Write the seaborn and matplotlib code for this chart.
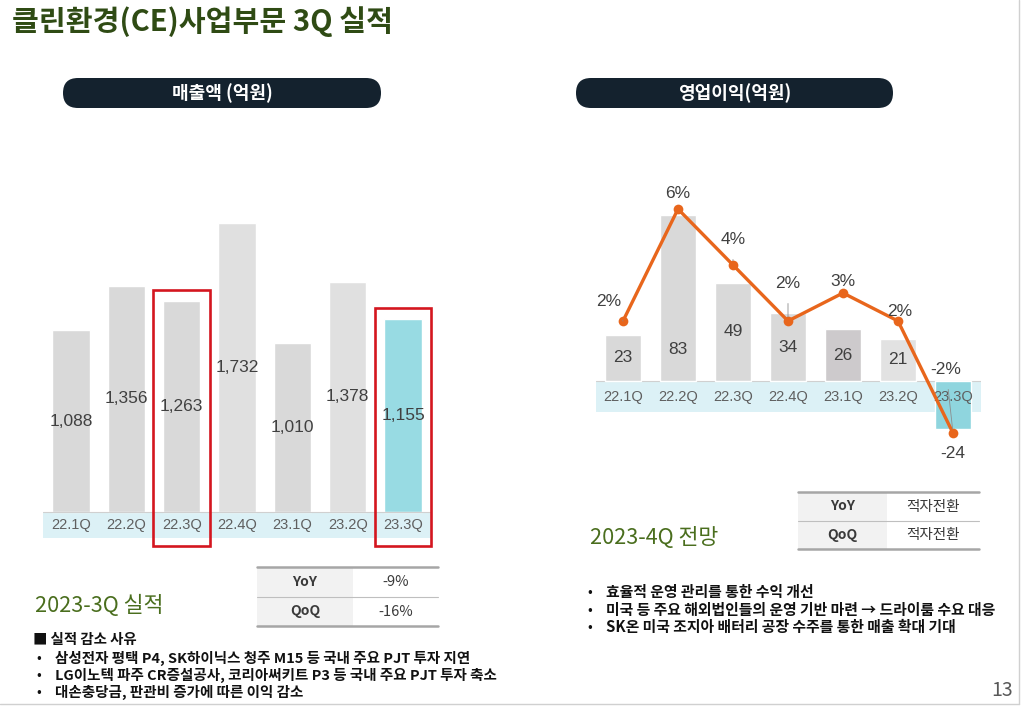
import matplotlib
matplotlib.use("Agg")
import matplotlib.pyplot as plt
import seaborn as sns
import pandas as pd
from matplotlib.patches import FancyBboxPatch, Rectangle

sns.set_theme(style="white")
plt.rcParams['font.family'] = ['Noto Sans CJK KR', 'DejaVu Sans']

# ---------------- data ----------------
quarters = ["22.1Q", "22.2Q", "22.3Q", "22.4Q", "23.1Q", "23.2Q", "23.3Q"]
sales = [1088, 1356, 1263, 1732, 1010, 1378, 1155]
op_profit = [23, 83, 49, 34, 26, 21, -24]
op_margin = [2, 6, 4, 2, 3, 2, -2]
highlight = ["22.3Q", "23.3Q"]

title = "클린환경(CE)사업부문 3Q 실적"
left_header = "매출액 (억원)"
right_header = "영업이익(억원)"
left_table = [("YoY", "-9%"), ("QoQ", "-16%")]
right_table = [("YoY", "적자전환"), ("QoQ", "적자전환")]
left_sub = "2023-3Q 실적"
right_sub = "2023-4Q 전망"
left_reason_head = "■ 실적 감소 사유"
left_bullets = [
    "삼성전자 평택 P4, SK하이닉스 청주 M15 등 국내 주요 PJT 투자 지연",
    "LG이노텍 파주 CR증설공사, 코리아써키트 P3 등 국내 주요 PJT 투자 축소",
    "대손충당금, 판관비 증가에 따른 이익 감소",
]
right_bullets = [
    "효율적 운영 관리를 통한 수익 개선",
    "미국 등 주요 해외법인들의 운영 기반 마련 → 드라이룸 수요 대응",
    "SK온 미국 조지아 배터리 공장 수주를 통한 매출 확대 기대",
]
page_no = "13"

# ---------------- styles ----------------
W, H = 1024, 707
NUM_FONT = ['Liberation Sans', 'DejaVu Sans']
KR = ['Noto Sans CJK KR', 'DejaVu Sans']
GRAY = "#d9d9d9"
CYAN = "#98dbe3"
BAND = "#dcf1f6"
NAVY = "#14222e"
ORANGE = "#e8661c"
RED = "#d4161f"
TXT = "#404040"
TICK = "#5f5f5f"

fig = plt.figure(figsize=(W / 100, H / 100), dpi=100)
fig.patch.set_facecolor("white")

# page overlay axes in pixel coordinates
page = fig.add_axes([0, 0, 1, 1], zorder=0)
page.set_xlim(0, W)
page.set_ylim(H, 0)
page.axis("off")

def fig_rect(x0, y0, x1, y1):
    return [x0 / W, 1 - y1 / H, (x1 - x0) / W, (y1 - y0) / H]

# ---------------- left chart ----------------
axL = fig.add_axes(fig_rect(43.3, 200, 430.7, 550), zorder=2)
axL.patch.set_alpha(0)
dfL = pd.DataFrame({"q": quarters, "v": sales})
colorsL = [CYAN if q == "23.3Q" else (GRAY if q not in ("22.4Q", "23.2Q") else "#e0e0e0") for q in quarters]
sns.barplot(data=dfL, x="q", y="v", hue="q", palette=colorsL, width=0.67,
            legend=False, ax=axL, saturation=1, zorder=2)
pxL = 0.167  # px per unit
axL.set_xlim(-0.5, 6.5)
axL.set_ylim(-(550 - 512) / pxL, (512 - 200) / pxL)
band_h = 26 / pxL
axL.axhspan(-band_h, 0, color=BAND, zorder=1, lw=0)
axL.axhline(0, color="#d0d0d0", lw=0.8, zorder=3)
for i, (q, v) in enumerate(zip(quarters, sales)):
    axL.text(i, v / 2, f"{v:,}", ha="center", va="center", fontsize=12.5,
             color=TXT, family=NUM_FONT, zorder=4)
    axL.text(i, -band_h / 2, q, ha="center", va="center", fontsize=10.5,
             color=TICK, family=NUM_FONT, zorder=4)
    if q in highlight:
        axL.add_patch(Rectangle((i - 0.51, -206), 1.02, v + 66 + 206, fill=False,
                                edgecolor=RED, lw=1.9, zorder=5, clip_on=False))
axL.axis("off")

# ---------------- right chart ----------------
axR = fig.add_axes(fig_rect(595.5, 180, 980.5, 460), zorder=2)
axR.patch.set_alpha(0)
dfR = pd.DataFrame({"q": quarters, "v": op_profit})
colorsR = []
for q in quarters:
    if q == "23.3Q":
        colorsR.append("#8fd5de")
    elif q == "23.1Q":
        colorsR.append("#cdcacc")
    elif q == "23.2Q":
        colorsR.append("#e2e2e2")
    else:
        colorsR.append(GRAY)
sns.barplot(data=dfR, x="q", y="v", hue="q", palette=colorsR, width=0.67,
            legend=False, ax=axR, saturation=1, zorder=2)
axR.set_xlim(-0.5, 6.5)
axR.set_ylim(-(460 - 381) / 2, (381 - 180) / 2)
axR.axhspan(-15.5, 0, color=BAND, zorder=1, lw=0)
axR.axhline(0, color="#d0d0d0", lw=0.8, zorder=1.5)
for i, (q, v) in enumerate(zip(quarters, op_profit)):
    if v >= 0:
        y = v / 2 if v < 60 else v * 0.19
        axR.text(i, y, f"{v}", ha="center", va="center", fontsize=12.5,
                 color=TXT, family=NUM_FONT, zorder=4)
    else:
        axR.text(i, v - 12, f"{v}", ha="center", va="center", fontsize=12.5,
                 color=TXT, family=NUM_FONT, zorder=4)
    axR.text(i, -7.75, q, ha="center", va="center", fontsize=10.5,
             color=TICK, family=NUM_FONT, zorder=3)
axR.axis("off")

axM = axR.twinx()
axM.set_zorder(3)
axM.patch.set_alpha(0)
dfM = pd.DataFrame({"x": range(len(quarters)), "m": op_margin})
sns.lineplot(data=dfM, x="x", y="m", color=ORANGE, lw=2.4, marker="o",
             markersize=7, markeredgewidth=0, ax=axM)
axM.set_xlim(-0.5, 6.5)
axM.set_ylim(-(460 - 377) / 28, (377 - 180) / 28)
offsets = [(-14, 19), (0, 15), (0, 26), (0, 38), (0, 12), (2, 10), (-7, 64)]
leaders = [True, False, True, True, False, False, True]
for i, (m, off, ld) in enumerate(zip(op_margin, offsets, leaders)):
    kw = {}
    if ld:
        kw["arrowprops"] = dict(arrowstyle="-", color="#8c8c8c", lw=0.6,
                                shrinkA=7, shrinkB=3)
    axM.annotate(f"{m}%", (i, m), xytext=off, textcoords="offset pixels",
                 ha="center", va="center", fontsize=12.5, color=TXT,
                 family=NUM_FONT, zorder=5, **kw)
axM.axis("off")

# ---------------- page elements ----------------
page.text(12, 22, title, ha="left", va="center", fontsize=21, fontweight="bold",
          color="#2f4b14", family=KR)

for (x0, x1, label) in [(63, 381, left_header), (576, 893, right_header)]:
    page.add_patch(FancyBboxPatch((x0, 78), x1 - x0, 30,
                                  boxstyle="round,pad=0,rounding_size=15",
                                  facecolor=NAVY, edgecolor="none", zorder=1))
    page.text((x0 + x1) / 2, 93.5, label, ha="center", va="center", fontsize=13,
              fontweight="bold", color="white", family=KR, zorder=2)

def draw_table(rows, x0, xs, x1, y0, y1, y2):
    page.add_patch(Rectangle((x0, y0), xs - x0, y2 - y0, facecolor="#f2f2f2",
                             edgecolor="none", zorder=1))
    page.plot([x0, x1], [y0, y0], color="#a6a6a6", lw=1.8, zorder=2)
    page.plot([x0, x1], [y2, y2], color="#a6a6a6", lw=1.8, zorder=2)
    page.plot([x0, x1], [y1, y1], color="#bfbfbf", lw=0.8, zorder=2)
    for (a, b), (ya, yb) in zip(rows, [(y0, y1), (y1, y2)]):
        yc = (ya + yb) / 2
        page.text((x0 + xs) / 2, yc, a, ha="center", va="center", fontsize=10,
                  fontweight="bold", color="#3a3a3a", family=KR, zorder=3)
        page.text((xs + x1) / 2, yc, b, ha="center", va="center", fontsize=10.5,
                  color="#3a3a3a", family=KR, zorder=3)

draw_table(left_table, 257, 353, 438, 567, 597, 626)
draw_table(right_table, 798, 887, 979, 492, 521, 549)

page.text(35, 606, left_sub, ha="left", va="center", fontsize=15.6,
          color="#4a6e1e", family=KR)
page.text(590, 538, right_sub, ha="left", va="center", fontsize=15.6,
          color="#4a6e1e", family=KR)

page.text(33, 640, left_reason_head, ha="left", va="center", fontsize=10.4,
          fontweight="bold", color="#111111", family=KR)
for k, t in enumerate(left_bullets):
    y = 658 + 17 * k
    page.text(36, y, "•", ha="left", va="center", fontsize=10, color="#111111", family=KR)
    page.text(55, y, t, ha="left", va="center", fontsize=10.45, fontweight="bold",
              color="#111111", family=KR)
for k, t in enumerate(right_bullets):
    y = 592 + 17.5 * k
    page.text(587, y, "•", ha="left", va="center", fontsize=10, color="#111111", family=KR)
    page.text(606, y, t, ha="left", va="center", fontsize=10.7, fontweight="bold",
              color="#111111", family=KR)

page.text(1013, 690, page_no, ha="right", va="center", fontsize=14,
          color="#595959", family=KR)

# slide frame
page.plot([1019, 1019], [0, 704], color="#d0d0d0", lw=1)
page.plot([0, 1019], [704, 704], color="#d0d0d0", lw=1)

fig.savefig("out.png", dpi=100, facecolor="white")
